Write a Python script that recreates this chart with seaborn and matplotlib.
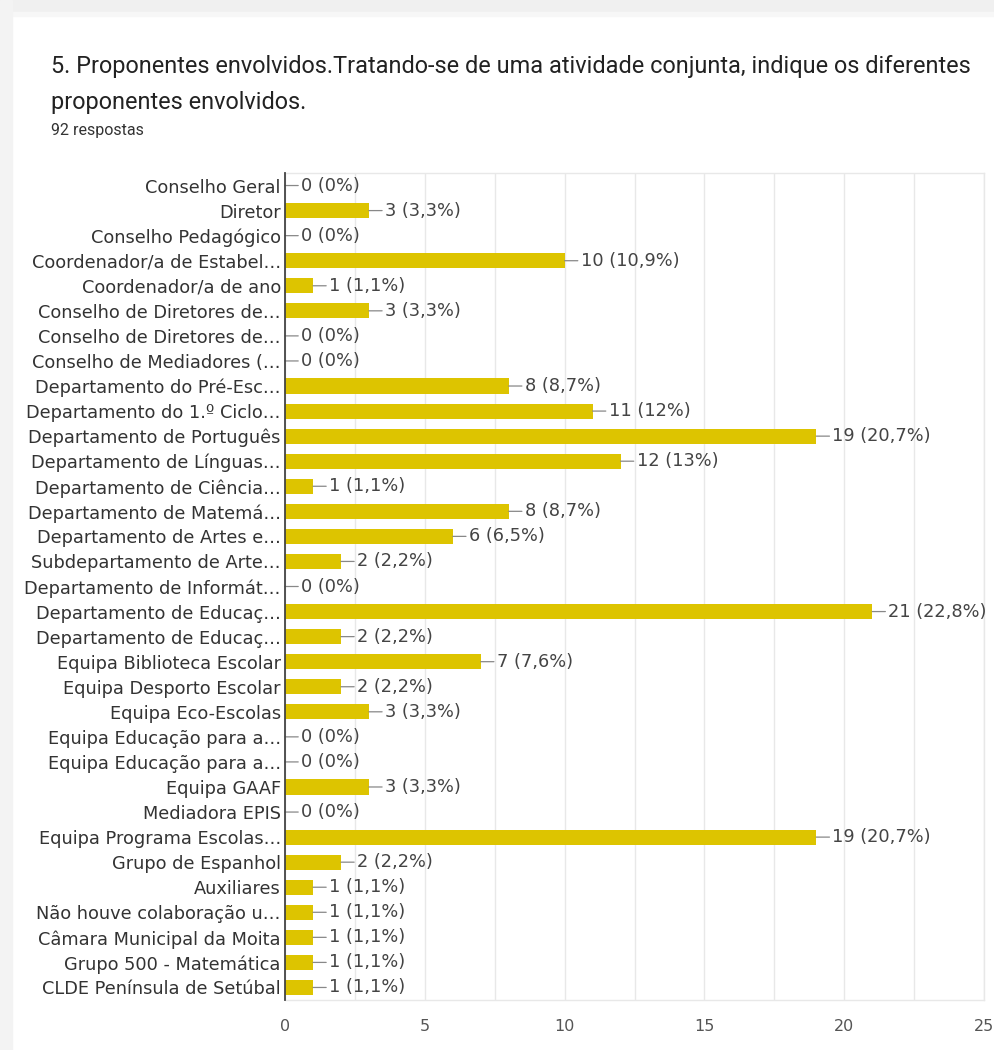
import matplotlib
matplotlib.use("Agg")
import matplotlib.pyplot as plt
import seaborn as sns
import pandas as pd
from matplotlib.patches import Rectangle
from matplotlib.ticker import MultipleLocator

categories = [
    "Conselho Geral", "Diretor", "Conselho Pedagógico", "Coordenador/a de Estabel…",
    "Coordenador/a de ano", "Conselho de Diretores de…", "Conselho de Diretores de…",
    "Conselho de Mediadores (…", "Departamento do Pré-Esc…", "Departamento do 1.º Ciclo…",
    "Departamento de Português", "Departamento de Línguas…", "Departamento de Ciência…",
    "Departamento de Matemá…", "Departamento de Artes e…", "Subdepartamento de Arte…",
    "Departamento de Informát…", "Departamento de Educaç…", "Departamento de Educaç…",
    "Equipa Biblioteca Escolar", "Equipa Desporto Escolar", "Equipa Eco-Escolas",
    "Equipa Educação para a…", "Equipa Educação para a…", "Equipa GAAF", "Mediadora EPIS",
    "Equipa Programa Escolas…", "Grupo de Espanhol", "Auxiliares", "Não houve colaboração u…",
    "Câmara Municipal da Moita", "Grupo 500 - Matemática", "CLDE Península de Setúbal",
]
counts = [0, 3, 0, 10, 1, 3, 0, 0, 8, 11, 19, 12, 1, 8, 6, 2, 0, 21, 2, 7, 2, 3, 0, 0, 3, 0,
          19, 2, 1, 1, 1, 1, 1]
percents = ["0%", "3,3%", "0%", "10,9%", "1,1%", "3,3%", "0%", "0%", "8,7%", "12%", "20,7%",
            "13%", "1,1%", "8,7%", "6,5%", "2,2%", "0%", "22,8%", "2,2%", "7,6%", "2,2%", "3,3%",
            "0%", "0%", "3,3%", "0%", "20,7%", "2,2%", "1,1%", "1,1%", "1,1%", "1,1%", "1,1%"]
x_ticks = [0, 5, 10, 15, 20, 25]
title_line1 = "5. Proponentes envolvidos.Tratando-se de uma atividade conjunta, indique os diferentes"
title_line2 = "proponentes envolvidos."
subtitle = "92 respostas"

W, H = 994, 1050
fig = plt.figure(figsize=(W / 100, H / 100), dpi=100)
fig.patch.set_facecolor("white")

# card background edges
fig.add_artist(Rectangle((0, 1 - 12 / H), 1, 12 / H, transform=fig.transFigure,
                         color="#f0f0f0", zorder=0))
fig.add_artist(Rectangle((0, 1 - 16 / H), 1, 4 / H, transform=fig.transFigure,
                         color="#f7f7f7", zorder=0))
fig.add_artist(Rectangle((0, 0), 12 / W, 1, transform=fig.transFigure,
                         color="#f3f3f3", zorder=0))

ax = fig.add_axes([285 / W, 1 - 1000 / H, (984 - 285) / W, (1000 - 173) / H])

df = pd.DataFrame({"pos": [str(i) for i in range(len(categories))], "count": counts})
sns.barplot(data=df, x="count", y="pos", orient="h", color="#DDC400", width=0.6,
            saturation=1, ax=ax, zorder=3)

ax.set_xlim(0, 25)
ax.set_xticks(x_ticks)
ax.xaxis.set_minor_locator(MultipleLocator(2.5))
ax.grid(axis="x", which="both", color="#e8e8e8", linewidth=1, zorder=0)
ax.grid(axis="y", visible=False)
ax.set_axisbelow(True)
ax.set_yticks(range(len(categories)))
ax.set_yticklabels(categories, fontsize=12.8, color="#333333", family="DejaVu Sans")
ax.set_xlabel("")
ax.set_ylabel("")
ax.tick_params(axis="y", length=0, pad=3)
ax.tick_params(axis="x", which="both", length=0, pad=14, labelsize=11.5, labelcolor="#555555")
for lbl in ax.get_xticklabels():
    lbl.set_family("DejaVu Sans")

for s in ["top", "bottom", "right"]:
    ax.spines[s].set_color("#e8e8e8")
    ax.spines[s].set_linewidth(1)
ax.spines["left"].set_color("#444444")
ax.spines["left"].set_linewidth(1.3)
ax.spines["left"].set_zorder(5)

for i, (c, p) in enumerate(zip(counts, percents)):
    ax.annotate(f"{c} ({p})", xy=(c, i), xytext=(16, 0), textcoords="offset pixels",
                ha="left", va="center", fontsize=12.8, color="#444444",
                family="DejaVu Sans",
                arrowprops=dict(arrowstyle="-", color="#888888", lw=0.9,
                                shrinkA=0, shrinkB=0), zorder=4)

fig.text(51 / W, 1 - 67 / H, title_line1, fontsize=16.9, color="#222222",
         family="Roboto", va="center", ha="left")
fig.text(51 / W, 1 - 103 / H, title_line2, fontsize=16.9, color="#222222",
         family="Roboto", va="center", ha="left")
fig.text(51 / W, 1 - 130 / H, subtitle, fontsize=11.5, color="#333333",
         family="Roboto", va="center", ha="left")

fig.savefig("out.png", dpi=100, facecolor="white")
